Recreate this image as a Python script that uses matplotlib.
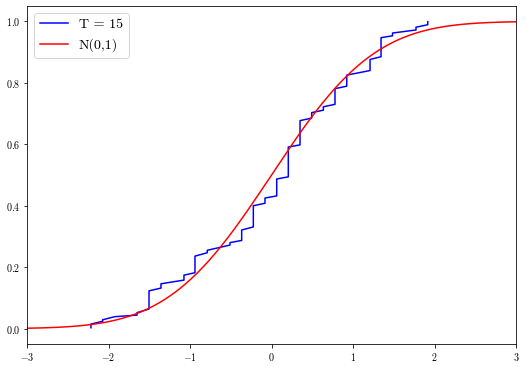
import math
import matplotlib
matplotlib.use('Agg')
import matplotlib.pyplot as plt
import numpy as np

plt.rcParams['font.family'] = 'serif'
plt.rcParams['font.serif'] = ['cmr10']
plt.rcParams['mathtext.fontset'] = 'cm'
plt.rcParams['axes.formatter.use_mathtext'] = True

x_jump = [-2.215, -2.071, -1.920, -1.650, -1.503, -1.356, -1.074, -0.939, -0.788,
          -0.509, -0.366, -0.223, -0.080, 0.064, 0.206, 0.350, 0.493, 0.636,
          0.779, 0.923, 1.209, 1.344, 1.485, 1.773, 1.917]
cdf_low = [0.003, 0.024, 0.039, 0.044, 0.064, 0.132, 0.158, 0.182, 0.247,
           0.272, 0.287, 0.331, 0.408, 0.432, 0.494, 0.598, 0.685, 0.711,
           0.730, 0.789, 0.840, 0.885, 0.953, 0.972, 0.989]
cdf_high = [0.015, 0.029, 0.039, 0.052, 0.123, 0.146, 0.174, 0.236, 0.255,
            0.280, 0.321, 0.400, 0.425, 0.487, 0.591, 0.677, 0.703, 0.722,
            0.781, 0.825, 0.876, 0.947, 0.962, 0.981, 0.999]

xs = np.repeat(x_jump, 2)
ys = np.column_stack([cdf_low, cdf_high]).ravel()

# standard normal cdf
grid = np.linspace(-3, 3, 300)
phi = np.array([0.5 * (1 + math.erf(g / math.sqrt(2))) for g in grid])

fig = plt.figure(figsize=(526 / 72, 367 / 72), dpi=72)
ax = fig.add_axes([27 / 526, 23 / 367, 489 / 526, 338 / 367])
ax.plot(xs, ys, color='blue', lw=1.5, label='T = 15')
ax.plot(grid, phi, color='red', lw=1.5, label='N(0,1)')
ax.set_xlim(-3, 3)
ax.set_ylim(-0.05, 1.05)
ax.set_xticks(np.arange(-3, 4, 1))
ax.set_yticks(np.arange(0, 1.01, 0.2))
ax.tick_params(labelsize=10)
ax.legend(loc='upper left', fontsize=14)

fig.savefig('out.png', dpi=72)
